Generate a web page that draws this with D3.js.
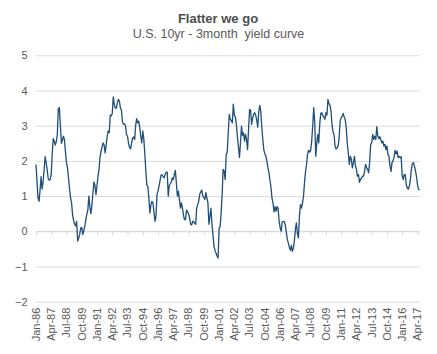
<!DOCTYPE html>
<html>
<head>
<meta charset="utf-8">
<script src="https://cdn.jsdelivr.net/npm/d3@7"></script>
<style>
  body { margin: 0; background: #fff; }
  svg { font-family: "Liberation Sans", Arial, sans-serif; }
</style>
</head>
<body>
<div id="chart"></div>
<script>
const title = "Flatter we go";
const subtitle = "U.S. 10yr - 3month  yield curve";

// first month of the series, then one value per month (10yr minus 3month, %)
const startMonth = "Jan-86";
const spread = [
  1.9, 1.4, 0.95, 0.85, 1.15, 1.55, 1.2, 1.4, 1.75, 2.12, 1.95, 1.75,        // 1986
  1.5, 1.45, 1.47, 1.62, 2.2, 2.63, 2.56, 2.45, 2.55, 2.75, 3.49, 3.51,      // 1987
  3.0, 2.5, 2.6, 2.7, 2.6, 2.25, 1.95, 1.8, 1.5, 1.2, 0.95, 0.8,             // 1988
  0.45, 0.3, 0.2, 0.15, 0.28, -0.28, -0.19, -0.09, 0.09, 0.11, -0.09, 0.02, // 1989
  0.15, 0.33, 0.48, 0.6, 1.0, 0.7, 0.5, 0.75, 1.09, 1.4, 1.3, 1.04,         // 1990
  1.3, 1.57, 1.76, 2.1, 2.28, 2.4, 2.51, 2.45, 2.23, 2.45, 2.7, 2.85,       // 1991
  2.8, 3.3, 3.28, 3.35, 3.82, 3.6, 3.5, 3.5, 3.65, 3.75, 3.7, 3.5,          // 1992
  3.44, 3.1, 3.04, 3.05, 3.0, 2.75, 2.7, 2.5, 2.38, 2.34, 2.51, 2.65,       // 1993
  2.68, 2.61, 3.0, 3.2, 3.08, 3.13, 2.95, 2.7, 2.51, 2.85, 2.62, 2.2,       // 1994
  1.7, 1.3, 1.28, 0.95, 0.52, 0.75, 0.85, 0.8, 0.55, 0.28, 0.45, 1.05,      // 1995
  1.15, 1.3, 1.45, 1.6, 1.6, 1.55, 1.52, 1.62, 1.68, 1.68, 1.0, 1.3,        // 1996
  1.35, 1.4, 1.52, 1.47, 1.6, 1.73, 1.38, 1.0, 1.14, 0.9, 0.66, 0.81,       // 1997
  0.65, 0.45, 0.33, 0.33, 0.6, 0.55, 0.5, 0.38, 0.2, 0.18, 0.28, 0.28,      // 1998
  0.22, 0.2, 0.66, 0.75, 0.85, 1.05, 1.12, 1.17, 1.0, 0.97, 0.9, 1.1,       // 1999
  0.95, 0.81, 0.2, 0.43, 0.66, 0.2, -0.1, -0.43, -0.55, -0.62, -0.7, -0.76, // 2000
  0.09, 0.14, 0.5, 1.04, 1.76, 1.71, 1.47, 2.18, 2.25, 2.8, 3.32, 3.18,     // 2001
  3.15, 3.08, 3.61, 3.3, 3.25, 3.04, 2.7, 2.4, 2.1, 2.5, 2.99, 2.72,        // 2002
  2.8, 2.56, 2.75, 2.61, 2.32, 2.89, 3.46, 3.44, 3.04, 3.23, 3.32, 3.37,    // 2003
  3.3, 3.15, 2.96, 3.4, 3.58, 3.4, 2.95, 2.6, 2.3, 2.2, 2.13, 1.99,         // 2004
  1.8, 1.66, 1.45, 1.25, 0.95, 0.81, 0.55, 0.7, 0.57, 0.7, 0.65, 0.28,      // 2005
  0.1, 0.0, 0.26, 0.28, 0.28, 0.19, 0.0, -0.22, -0.33, -0.45, -0.54, -0.4,  // 2006
  -0.57, -0.47, -0.28, 0.05, 0.24, -0.05, -0.19, 0.43, 0.76, 0.66, 0.81, 1.0, // 2007
  1.4, 1.71, 1.9, 2.2, 2.3, 2.25, 2.3, 2.55, 3.0, 3.51, 3.1, 2.13,          // 2008
  2.51, 2.75, 2.51, 3.08, 3.35, 3.37, 3.29, 3.25, 3.18, 3.37, 3.3, 3.75,    // 2009
  3.62, 3.58, 3.42, 3.04, 2.82, 2.75, 2.42, 2.34, 2.37, 2.42, 2.66, 3.13,   // 2010
  3.23, 3.27, 3.35, 3.25, 3.18, 2.94, 2.51, 2.23, 1.9, 2.13, 2.04, 1.8,     // 2011
  1.95, 2.13, 1.87, 1.76, 1.57, 1.61, 1.39, 1.47, 1.52, 1.57, 1.57, 1.71,   // 2012
  1.9, 1.8, 1.76, 1.66, 1.95, 2.47, 2.51, 2.75, 2.61, 2.7, 2.61, 2.97,      // 2013
  2.7, 2.63, 2.69, 2.61, 2.51, 2.56, 2.42, 2.47, 2.32, 2.42, 2.18, 2.13,    // 2014
  1.85, 1.7, 1.95, 2.0, 2.1, 2.3, 2.2, 2.28, 2.09, 2.13, 2.09, 2.12,        // 2015
  1.57, 1.47, 1.61, 1.61, 1.33, 1.23, 1.2, 1.28, 1.47, 1.76, 1.93, 1.95,    // 2016
  1.85, 1.71, 1.57, 1.33, 1.2, 1.17                                          // 2017
];

const yTicks = [-2, -1, 0, 1, 2, 3, 4, 5];
const xTickLabels = [
  "Jan-86", "Apr-87", "Jul-88", "Oct-89", "Jan-91", "Apr-92", "Jul-93",
  "Oct-94", "Jan-96", "Apr-97", "Jul-98", "Oct-99", "Jan-01", "Apr-02",
  "Jul-03", "Oct-04", "Jan-06", "Apr-07", "Jul-08", "Oct-09", "Jan-11",
  "Apr-12", "Jul-13", "Oct-14", "Jan-16", "Apr-17"
];

const width = 437;
const height = 354;
const margin = { top: 55.3, right: 17.5, bottom: 52.3, left: 36 };

const parseMonth = d3.timeParse("%b-%y");
const start = parseMonth(startMonth);
const data = spread.map((v, i) => ({ date: d3.timeMonth.offset(start, i), value: v }));

const svg = d3.select("#chart")
  .append("svg")
  .attr("width", width)
  .attr("height", height);

const x = d3.scaleTime()
  .domain(d3.extent(data, d => d.date))
  .range([margin.left, width - margin.right]);

const y = d3.scaleLinear()
  .domain([-2, 5])
  .range([height - margin.bottom, margin.top]);

// titles
svg.append("text")
  .attr("x", 218)
  .attr("y", 23)
  .attr("text-anchor", "middle")
  .attr("font-size", 13)
  .attr("font-weight", "bold")
  .attr("fill", "#4d4d4d")
  .text(title);

svg.append("text")
  .attr("x", 218.5)
  .attr("y", 37.5)
  .attr("text-anchor", "middle")
  .attr("font-size", 12.5)
  .attr("fill", "#595959")
  .style("white-space", "pre")
  .text(subtitle);

// y gridlines and labels
const yAxis = d3.axisLeft(y)
  .tickValues(yTicks)
  .tickFormat(d3.format("d"))
  .tickSize(-(width - margin.right - margin.left))
  .tickPadding(8);

svg.append("g")
  .attr("transform", `translate(${margin.left},0)`)
  .call(yAxis)
  .call(g => g.select(".domain").remove())
  .call(g => g.selectAll(".tick line").attr("stroke", "#d9d9d9"))
  .call(g => g.selectAll(".tick text")
    .attr("x", -8.5)
    .attr("font-size", 11)
    .attr("fill", "#595959"));

// x axis line at zero with small ticks
const xTickDates = xTickLabels.map(parseMonth);

const xAxisZero = d3.axisBottom(x)
  .tickValues(xTickDates)
  .tickSize(4)
  .tickFormat("");

svg.append("g")
  .attr("transform", `translate(0,${y(0)})`)
  .call(xAxisZero)
  .call(g => g.select(".domain").attr("stroke", "#d9d9d9").attr("d", `M${margin.left},0H${width - margin.right}`))
  .call(g => g.selectAll(".tick line").attr("stroke", "#d9d9d9"));

// x labels at the bottom, rotated
svg.append("g")
  .selectAll("text")
  .data(xTickLabels)
  .join("text")
  .attr("transform", (d, i) => `translate(${x(xTickDates[i])},${y(-2) + 6}) rotate(-90)`)
  .attr("text-anchor", "end")
  .attr("dy", "0.35em")
  .attr("font-size", 11)
  .attr("fill", "#595959")
  .text(d => d);

// the line
const line = d3.line()
  .x(d => x(d.date))
  .y(d => y(d.value));

svg.append("path")
  .datum(data)
  .attr("fill", "none")
  .attr("stroke", "#1f4e79")
  .attr("stroke-width", 1.3)
  .attr("stroke-linejoin", "round")
  .attr("d", line);
</script>
</body>
</html>
